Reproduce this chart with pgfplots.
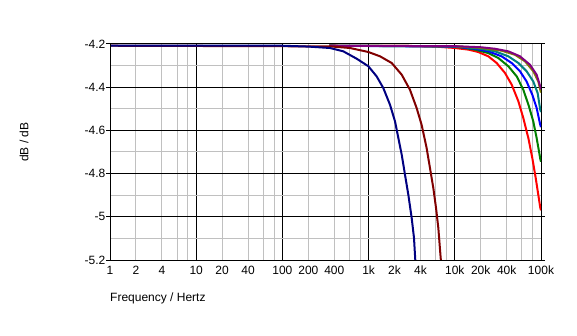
\documentclass[border=0pt]{standalone}
\usepackage{fontspec}
\setmainfont{Liberation Sans}
\usepackage{pgfplots}
\pgfplotsset{compat=1.18}
\definecolor{cnavy}{RGB}{0,0,128}
\definecolor{cmaroon}{RGB}{128,0,0}
\definecolor{cred}{RGB}{255,0,0}
\definecolor{cgreen}{RGB}{0,128,0}
\definecolor{cblue}{RGB}{0,0,255}
\definecolor{cteal}{RGB}{0,128,128}
\definecolor{colive}{RGB}{128,128,0}
\definecolor{cpurple}{RGB}{128,0,128}
\definecolor{gridgray}{RGB}{192,192,192}
\begin{document}
\begin{tikzpicture}
\path[use as bounding box] (0,0) rectangle (577bp,336bp);
\begin{semilogxaxis}[
  at={(110bp,76bp)}, anchor=south west,
  scale only axis, width=431bp, height=216bp,
  xmin=1, xmax=100000, ymin=-5.2, ymax=-4.2,
  log basis x=10,
  xtick={1,10,100,1000,10000,100000},
  xticklabels={1,10,100,1k,10k,100k},
  extra x ticks={2,4,20,40,200,400,2000,4000,20000,40000},
  extra x tick labels={2,4,20,40,200,400,2k,4k,20k,40k},
  extra x tick style={grid=none, xtick style={draw=none}},
  minor xtick={2,4,6,8,20,40,60,80,200,400,600,800,2000,4000,6000,8000,20000,40000,60000,80000},
  ytick={-5.2,-5,-4.8,-4.6,-4.4,-4.2},
  yticklabels={-5.2,-5,-4.8,-4.6,-4.4,-4.2},
  minor ytick={-5.1,-4.9,-4.7,-4.5,-4.3},
  xmajorgrids, ymajorgrids, xminorgrids, yminorgrids,
  major grid style={black, line width=1bp},
  minor grid style={gridgray, line width=1bp},
  xtick style={draw=none},
  minor tick length=0pt,
  ytick style={black, line width=1bp},
  tick align=outside, major tick length=4bp,
  axis line style={black, line width=1bp},
  tick label style={font=\fontsize{12bp}{14bp}\selectfont, text=black},
  xticklabel style={inner sep=1bp, yshift=-1bp},
  yticklabel style={inner sep=0.5bp},
  xlabel={Frequency / Hertz},
  ylabel={dB / dB},
  label style={font=\fontsize{12bp}{14bp}\selectfont},
  xlabel style={at={(axis description cs:0,-0.18)}, anchor=west, inner sep=0pt},
  ylabel style={at={(axis description cs:-0.1995,0.546)}, anchor=center, inner sep=0pt},
  every axis plot/.append style={line width=2bp, mark=none},
  clip=true,
]
\addplot[cred] coordinates {(350,-4.208)(3000,-4.209)(6000,-4.212)(10050,-4.2185)(14400,-4.226)(18700,-4.237)(24500,-4.257)(30600,-4.288)(38200,-4.334)(45700,-4.388)(54600,-4.465)(62400,-4.543)(71300,-4.635)(79300,-4.728)(86800,-4.82)(93000,-4.898)(98200,-4.959)(100000,-4.97)};
\addplot[cgreen] coordinates {(350,-4.208)(8000,-4.211)(12000,-4.216)(17100,-4.226)(24500,-4.242)(32000,-4.265)(41800,-4.303)(52300,-4.35)(62400,-4.412)(72400,-4.488)(81300,-4.558)(89000,-4.635)(94800,-4.697)(98000,-4.731)(100000,-4.745)};
\addplot[cblue] coordinates {(350,-4.208)(10000,-4.212)(17000,-4.222)(24500,-4.234)(34900,-4.257)(45700,-4.288)(57000,-4.326)(68000,-4.373)(79300,-4.435)(89000,-4.496)(98000,-4.574)(100000,-4.585)};
\addplot[cteal] coordinates {(350,-4.208)(10000,-4.211)(20000,-4.222)(29300,-4.234)(41800,-4.257)(54600,-4.288)(68000,-4.326)(81300,-4.373)(91400,-4.427)(98000,-4.504)(100000,-4.515)};
\addplot[colive] coordinates {(350,-4.208)(10000,-4.21)(20000,-4.218)(34900,-4.231)(49900,-4.25)(65200,-4.28)(81300,-4.326)(93000,-4.373)(98000,-4.412)(100000,-4.425)};
\addplot[cpurple] coordinates {(350,-4.208)(10000,-4.21)(20000,-4.215)(29300,-4.222)(41800,-4.234)(57000,-4.257)(74500,-4.296)(89000,-4.342)(98000,-4.396)(100000,-4.41)};
\addplot[cmaroon] coordinates {(1,-4.208)(357,-4.211)(608,-4.2185)(993,-4.237)(1356,-4.257)(1854,-4.288)(2421,-4.342)(3020,-4.412)(3606,-4.496)(4121,-4.574)(4710,-4.681)(5152,-4.774)(5636,-4.867)(6057,-4.959)(6442,-5.052)(6860,-5.191)(6900,-5.2)};
\addplot[cnavy] coordinates {(1,-4.208)(100,-4.208)(200,-4.212)(357,-4.2185)(509,-4.234)(727,-4.268)(993,-4.303)(1241,-4.35)(1482,-4.404)(1771,-4.481)(2024,-4.558)(2213,-4.635)(2421,-4.712)(2644,-4.805)(2891,-4.898)(3162,-5.006)(3363,-5.098)(3480,-5.2)};
\draw[black, line width=2bp] (rel axis cs:0,0) -- (rel axis cs:0,1);
\end{semilogxaxis}
\end{tikzpicture}
\end{document}
